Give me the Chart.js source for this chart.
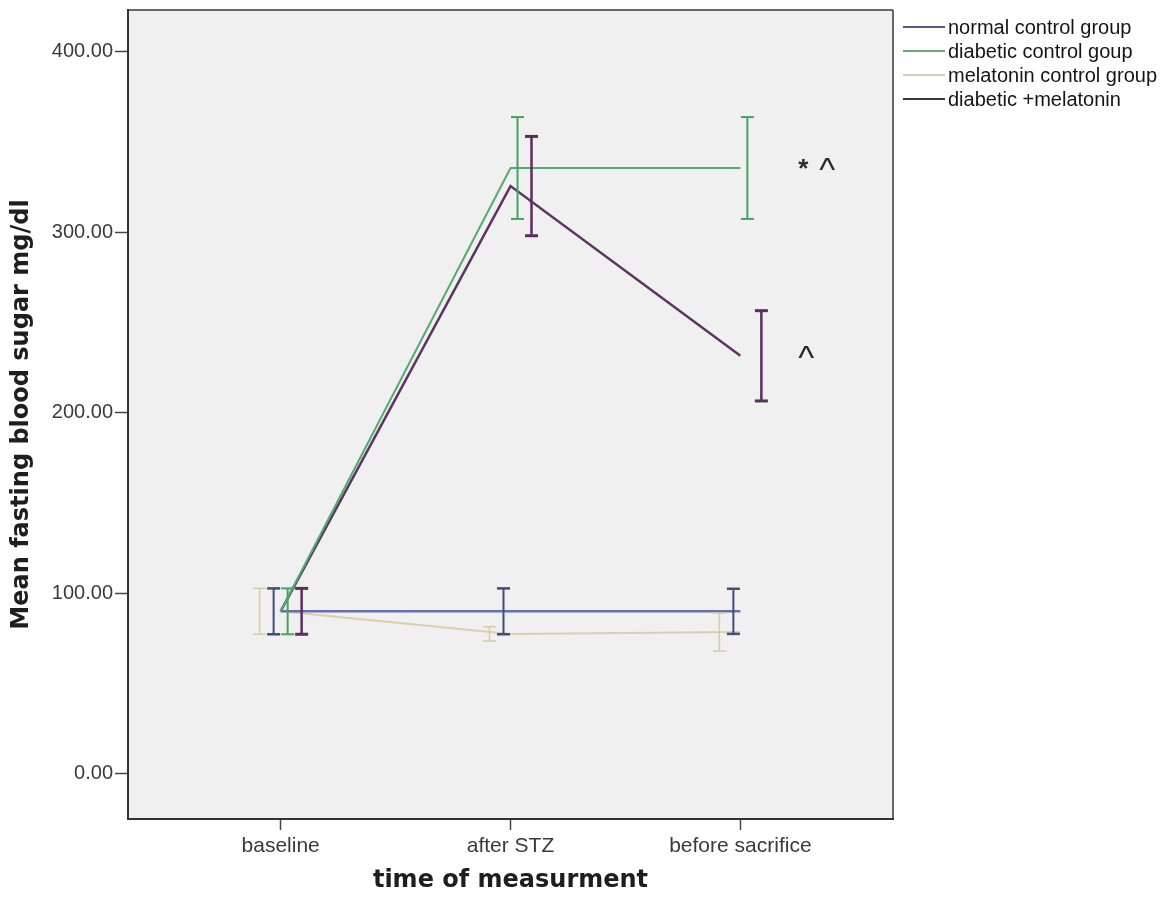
<!DOCTYPE html>
<html>
<head>
<meta charset="utf-8">
<script src="https://cdn.jsdelivr.net/npm/chart.js@4.4.1/dist/chart.umd.min.js"></script>
<style>
  html, body { margin: 0; padding: 0; background: #ffffff; }
  #wrap { width: 1170px; height: 906px; position: relative; }
</style>
</head>
<body>
<div id="wrap"><canvas id="c" width="1170" height="906"></canvas></div>
<script>
// Time points on the x axis
const categories = ['baseline', 'after STZ', 'before sacrifice'];

// Group names (legend order)
const seriesNames = ['normal control group', 'diabetic control goup', 'melatonin control group', 'diabetic +melatonin'];

// Mean fasting blood sugar (mg/dl) and error-bar half widths per group
const normalMean    = [90, 90, 90];
const normalErr     = [12.7, 12.7, 12.5];
const diabeticMean  = [90, 335.5, 335.5];
const diabeticErr   = [12.7, 28.2, 28.2];
const melatoninMean = [90, 77.5, 78.5];
const melatoninErr  = [12.7, 4, 10.5];
const diabMelMean   = [90, 325.5, 231.5];
const diabMelErr    = [12.7, 27.5, 25];

// Y axis tick values
const yTicks = [0, 100, 200, 300, 400];

// Significance marks placed beside the last time point of a group
const markSeries = [1, 3];
const markText   = ['* ^', '^'];

const means = [normalMean, diabeticMean, melatoninMean, diabMelMean];
const errs  = [normalErr, diabeticErr, melatoninErr, diabMelErr];

// Drawing styles per group
const styles = [
  { line: '#6670ad', lineWidth: 2.5, bar: '#434b7a', barWidth: 2,   capWidth: 2.5, offset: -7,  legend: '#565b8c' },
  { line: '#52ad6c', lineWidth: 2,   bar: '#45a461', barWidth: 2,   capWidth: 2,   offset: 7,   legend: '#5fb274' },
  { line: '#dccfae', lineWidth: 2,   bar: '#d9cb9f', barWidth: 1.5, capWidth: 1.5, offset: -21, legend: '#d6cdb6' },
  { line: '#5e3462', lineWidth: 2.5, bar: '#5a2e5d', barWidth: 2.5, capWidth: 3,   offset: 21,  legend: '#3f3148' }
];

const datasets = seriesNames.map((name, k) => ({
  label: name,
  data: means[k].map((v, i) => ({ x: i, y: v })),
  borderColor: styles[k].line,
  borderWidth: styles[k].lineWidth,
  pointRadius: 0,
  pointHoverRadius: 0,
  tension: 0,
  fill: false
}));

function seg(ctx, x1, y1, x2, y2) {
  ctx.beginPath(); ctx.moveTo(x1, y1); ctx.lineTo(x2, y2); ctx.stroke();
}

// Grey plot background and the top/right frame
const plotBackground = {
  id: 'plotBackground',
  beforeDraw(chart) {
    const { ctx, chartArea: a } = chart;
    ctx.save();
    ctx.fillStyle = '#ffffff';
    ctx.fillRect(0, 0, chart.width, chart.height);
    ctx.fillStyle = '#f0f0f0';
    ctx.fillRect(a.left, a.top, a.right - a.left, a.bottom - a.top);
    ctx.restore();
  },
  afterDraw(chart) {
    const { ctx, chartArea: a } = chart;
    ctx.save();
    ctx.strokeStyle = '#3a3a3a';
    ctx.lineWidth = 1.5;
    seg(ctx, a.left, a.top, a.right, a.top);
    seg(ctx, a.right, a.top, a.right, a.bottom);
    ctx.restore();
  }
};

// Error bars with caps, offset sideways per group
const errorBars = {
  id: 'errorBars',
  afterDatasetsDraw(chart) {
    const { ctx } = chart;
    const xs = chart.scales.x, ys = chart.scales.y;
    const half = 6.5;
    ctx.save();
    means.forEach((m, k) => {
      const st = styles[k];
      ctx.strokeStyle = st.bar;
      m.forEach((v, i) => {
        const x = xs.getPixelForValue(i) + st.offset;
        const yt = ys.getPixelForValue(v + errs[k][i]);
        const yb = ys.getPixelForValue(v - errs[k][i]);
        ctx.lineWidth = st.barWidth;
        seg(ctx, x, yt, x, yb);
        ctx.lineWidth = st.capWidth;
        seg(ctx, x - half, yt, x + half, yt);
        seg(ctx, x - half, yb, x + half, yb);
      });
    });
    ctx.restore();
  }
};

// Significance marks: '*' and a large '^'
const marks = {
  id: 'marks',
  afterDatasetsDraw(chart) {
    const { ctx } = chart;
    const xs = chart.scales.x, ys = chart.scales.y;
    ctx.save();
    ctx.fillStyle = '#2a2a2a';
    ctx.textAlign = 'left';
    ctx.textBaseline = 'alphabetic';
    markSeries.forEach((k, j) => {
      const last = means[k].length - 1;
      let x = xs.getPixelForValue(last) + 58;
      const yc = ys.getPixelForValue(means[k][last]) - 4;
      for (const ch of markText[j]) {
        if (ch === ' ') { x += 10; continue; }
        ctx.font = ch === '^' ? '34px "Liberation Sans", Arial, sans-serif' : 'bold 26px "Liberation Sans", Arial, sans-serif';
        const mt = ctx.measureText(ch);
        const base = yc + (mt.actualBoundingBoxAscent - mt.actualBoundingBoxDescent) / 2;
        ctx.fillText(ch, x - mt.actualBoundingBoxLeft, base);
        x += mt.actualBoundingBoxLeft + mt.actualBoundingBoxRight;
      }
    });
    ctx.restore();
  }
};

// Legend to the right of the plot
const sideLegend = {
  id: 'sideLegend',
  afterDraw(chart) {
    const { ctx, chartArea: a } = chart;
    ctx.save();
    ctx.font = '20px "Liberation Sans", Arial, sans-serif';
    ctx.textBaseline = 'middle';
    ctx.textAlign = 'left';
    seriesNames.forEach((name, i) => {
      const y = a.top + 18 + i * 24;
      ctx.strokeStyle = styles[i].legend;
      ctx.lineWidth = 2;
      seg(ctx, a.right + 10, y - 1, a.right + 52, y - 1);
      ctx.fillStyle = '#151515';
      ctx.fillText(name, a.right + 55, y);
    });
    ctx.restore();
  }
};

new Chart(document.getElementById('c').getContext('2d'), {
  type: 'line',
  data: { datasets },
  options: {
    responsive: false,
    animation: false,
    devicePixelRatio: 1,
    layout: { padding: { left: 0, top: 10, right: 277, bottom: 0 } },
    plugins: { legend: { display: false }, tooltip: { enabled: false } },
    scales: {
      x: {
        type: 'linear',
        min: -0.664,
        max: 2.664,
        afterBuildTicks: (s) => { s.ticks = categories.map((_, i) => ({ value: i })); },
        afterFit: (s) => { s.height = 87; },
        ticks: {
          callback: (v) => categories[v],
          font: { family: '"Liberation Sans", Arial, sans-serif', size: 21 },
          color: '#3a3a3a',
          padding: 4,
          maxRotation: 0,
          autoSkip: false
        },
        grid: { drawOnChartArea: false, drawTicks: true, tickLength: 11, tickColor: '#444', tickWidth: 1.5 },
        border: { display: true, color: '#333', width: 2 },
        title: {
          display: true,
          text: 'time of measurment',
          font: { family: '"DejaVu Sans", sans-serif', weight: 'bold', size: 24 },
          color: '#1e1e1e',
          padding: { top: 0, bottom: 11 }
        }
      },
      y: {
        min: -25,
        max: 423,
        afterBuildTicks: (s) => { s.ticks = yTicks.map((v) => ({ value: v })); },
        afterFit: (s) => { s.width = 128; },
        ticks: {
          callback: (v) => Number(v).toFixed(2),
          font: { family: '"Liberation Sans", Arial, sans-serif', size: 20, lineHeight: 0.8 },
          color: '#3a3a3a',
          padding: 2
        },
        grid: { drawOnChartArea: false, drawTicks: true, tickLength: 13, tickColor: '#444', tickWidth: 1.5 },
        border: { display: true, color: '#333', width: 2 },
        title: {
          display: true,
          text: 'Mean fasting blood sugar mg/dl',
          font: { family: '"DejaVu Sans", sans-serif', weight: 'bold', size: 24 },
          color: '#1e1e1e',
          padding: { top: 7.6, bottom: 0 }
        }
      }
    }
  },
  plugins: [plotBackground, errorBars, marks, sideLegend]
});
</script>
</body>
</html>
